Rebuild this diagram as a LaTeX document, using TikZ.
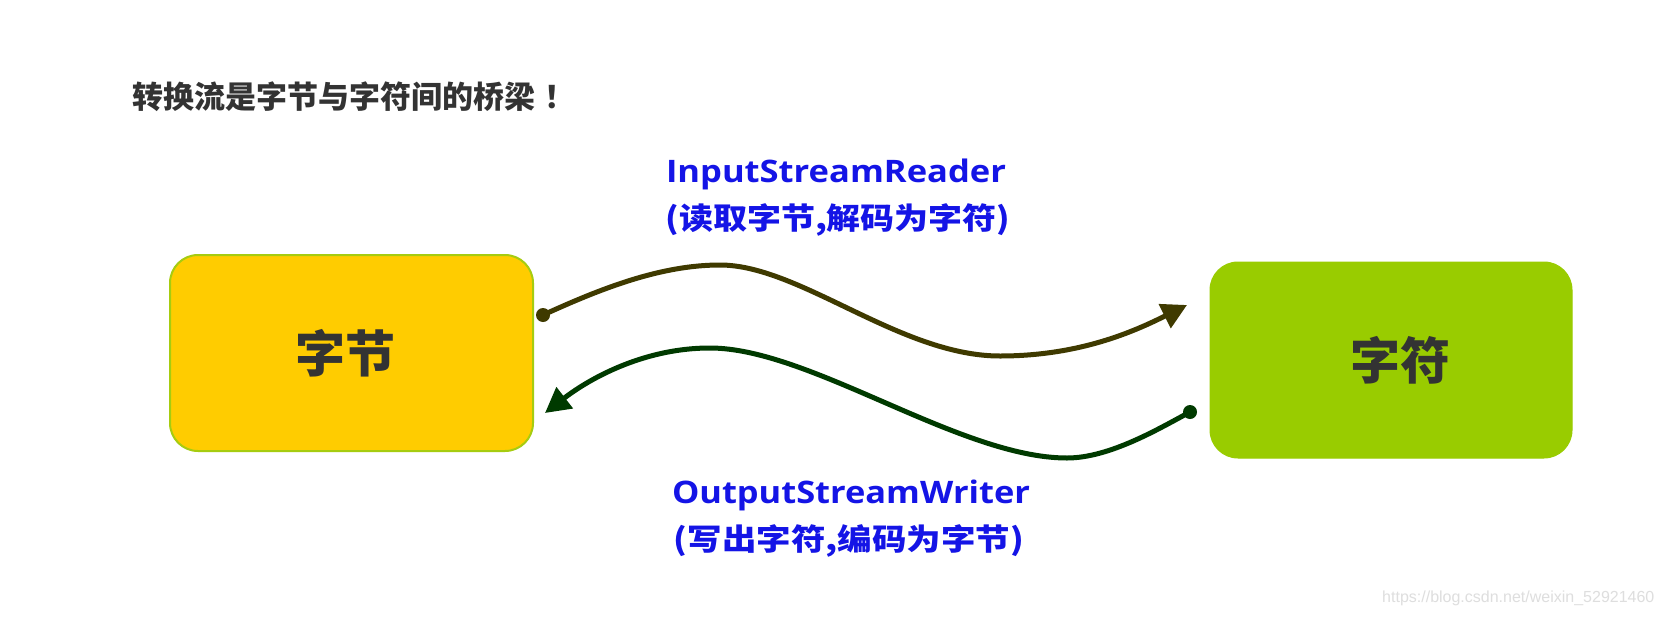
\documentclass[tikz,border=0pt]{standalone}
\usepackage{fontspec}
\usepackage{graphicx}
\setmainfont{Noto Sans CJK SC}
\newfontfamily\cjk{Noto Sans CJK SC}
\newfontfamily\lat{Open Sans}
\newfontfamily\wm{Liberation Sans}
\usetikzlibrary{arrows.meta}
\definecolor{byteY}{HTML}{FFCC00}
\definecolor{charG}{HTML}{99CC00}
\definecolor{borderG}{HTML}{A6CC10}
\definecolor{inC}{HTML}{3F3A00}
\definecolor{outC}{HTML}{003A00}
\definecolor{txtC}{HTML}{333333}
\definecolor{lblC}{HTML}{1414E6}
\definecolor{wmC}{HTML}{DEDEDE}
\tikzset{
  boxbase/.style={rounded corners=28pt, minimum width=363pt, minimum height=196pt,
    inner sep=0pt, text=txtC, font=\cjk\bfseries\fontsize{50}{50}\selectfont},
  flowline/.style={line width=5pt, line cap=round, line join=round},
  inflow/.style={flowline, draw=inC},
  outflow/.style={flowline, draw=outC},
  lbltext/.style={text=lblC, inner sep=0pt, anchor=base},
}
\begin{document}
\begin{tikzpicture}[x=1pt,y=-1pt]
\useasboundingbox (0,0) rectangle (1661,616);
\fill[white] (0,0) rectangle (1661,616);

% title
\node[anchor=base west, inner sep=0pt, text=txtC] (title) at (132,108)
  {\cjk\bfseries\fontsize{31}{31}\selectfont 转换流是字节与字符间的桥梁\kern9pt！};

% boxes
\node[boxbase, fill=byteY, draw=borderG, line width=2pt] (bytes) at (351.5,353)
  {\hspace*{-12pt}\raisebox{3pt}{字节}};
\node[boxbase, fill=charG, draw=charG, line width=1pt, minimum width=362pt] (chars) at (1391,360)
  {\hspace*{18pt}\raisebox{2pt}{字符}};

% connector waypoints
\coordinate (inS) at (543,315);
\coordinate (inP) at (720,265);
\coordinate (inT) at (1000,356);
\coordinate (inE) at (1187,305);
\coordinate (outS) at (1190,412);
\coordinate (outT) at (1067,458);
\coordinate (outP) at (710,348);
\coordinate (outE) at (545,413);

% upper flow: bytes -> chars
\draw[inflow, -{Triangle[length=25pt,width=26pt]}]
  (inS) .. controls (600,289) and (660,265) .. (inP)
        .. controls (800,265) and (900,356) .. (inT)
        .. controls (1080,356) and (1135,331) .. (inE);
\fill[inC] (inS) circle[radius=7pt];

% lower flow: chars -> bytes
\draw[outflow, -{Triangle[length=25pt,width=26pt]}]
  (outS) .. controls (1160,428) and (1110,458) .. (outT)
         .. controls (960,458) and (810,348) .. (outP)
         .. controls (640,348) and (585,382) .. (outE);
\fill[outC] (outS) circle[radius=7pt];

% labels
\node[lbltext] (inlbl) at (836,182)
  {\lat\bfseries\fontsize{31}{31}\selectfont\resizebox{340pt}{\height}{InputStreamReader}};
\node[lbltext] (inlbl2) at (838,229)
  {\cjk\bfseries\fontsize{30}{30}\selectfont\resizebox{345pt}{\height}{(读取字节,解码为字符)}};
\node[lbltext] (outlbl) at (851,503)
  {\lat\bfseries\fontsize{31}{31}\selectfont\resizebox{358pt}{\height}{OutputStreamWriter}};
\node[lbltext] (outlbl2) at (849,550)
  {\cjk\bfseries\fontsize{30}{30}\selectfont\resizebox{350pt}{\height}{(写出字符,编码为字节)}};

% watermark
\node[anchor=base west, inner sep=0pt, text=wmC] (wmark) at (1382,602)
  {\wm\fontsize{16}{16}\selectfont https://blog.csdn.net/weixin\_52921460};
\end{tikzpicture}
\end{document}
